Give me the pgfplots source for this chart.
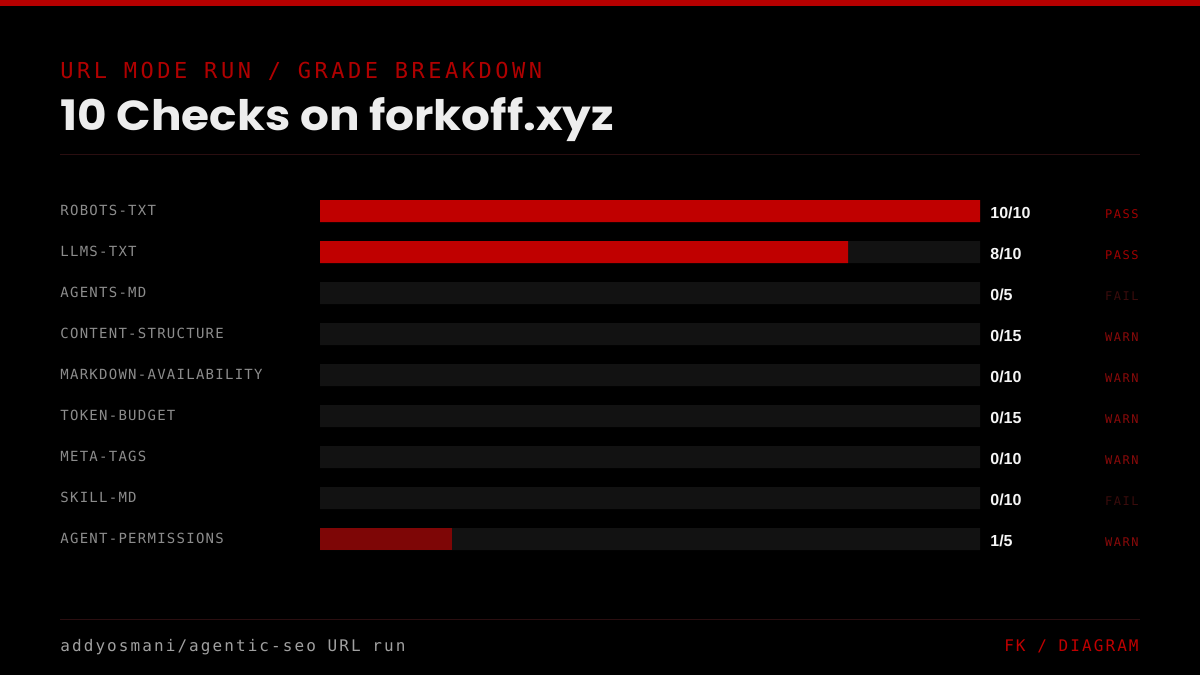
\documentclass[border=0pt]{standalone}
\usepackage{pgfplots}
\pgfplotsset{compat=1.18}
\usepackage{fontspec}
\setmainfont{Liberation Sans}
\newfontfamily\titlefont{Poppins}
\newfontfamily\labmono[LetterSpace=9]{DejaVu Sans Mono}
\newfontfamily\headmono[LetterSpace=16]{DejaVu Sans Mono}
\newfontfamily\statmono[LetterSpace=13]{DejaVu Sans Mono}
\newfontfamily\footmono[LetterSpace=13]{DejaVu Sans Mono}
\definecolor{topred}{HTML}{B50000}
\definecolor{barred}{HTML}{C00000}
\definecolor{bardark}{HTML}{7E0606}
\definecolor{track}{HTML}{121212}
\definecolor{headred}{HTML}{B00000}
\definecolor{passc}{HTML}{A00000}
\definecolor{warnc}{HTML}{8A0A0A}
\definecolor{failc}{HTML}{3A0C0C}
\definecolor{sepc}{HTML}{2A0E10}
\definecolor{labc}{HTML}{8C8C8C}
\definecolor{footc}{HTML}{A0A0A0}
\begin{document}
\begin{tikzpicture}
\path[use as bounding box] (0,0) rectangle (600pt,337.5pt);
\fill[black] (0,0) rectangle (600pt,337.5pt);
\begin{scope}[x=0.5pt,y=-0.5pt,shift={(0,-675)}]
\fill[topred] (0,0) rectangle (1200,6);
\node[anchor=base west, inner sep=0pt, text=headred, font=\headmono\fontsize{11pt}{13pt}\selectfont] at (60,79) {URL MODE RUN / GRADE BREAKDOWN};
\node[anchor=base west, inner sep=0pt, text=white!93!black, font=\titlefont\bfseries\fontsize{21pt}{24pt}\selectfont] at (60,131) {\scalebox{1.08}[1]{10 Checks on forkoff.xyz}};
\draw[sepc, line width=0.5pt] (60,155) -- (1140,155);
\draw[sepc, line width=0.5pt] (60,620) -- (1140,620);
\node[anchor=base west, inner sep=0pt, text=footc, font=\footmono\fontsize{8pt}{10pt}\selectfont] at (60,651) {addyosmani/agentic-seo URL run};
\node[anchor=base east, inner sep=0pt, text=barred, font=\footmono\fontsize{8pt}{10pt}\selectfont] at (1139,651) {FK / DIAGRAM};
\end{scope}
\begin{axis}[
  at={(160pt,57.75pt)}, anchor=south west,
  scale only axis, width=330pt, height=184.5pt,
  xmin=0, xmax=1, ymin=-0.5, ymax=8.5, y dir=reverse,
  axis line style={draw=none}, xtick=\empty,
  ytick={0,...,8},
  yticklabels={ROBOTS-TXT,LLMS-TXT,AGENTS-MD,CONTENT-STRUCTURE,MARKDOWN-AVAILABILITY,TOKEN-BUDGET,META-TAGS,SKILL-MD,AGENT-PERMISSIONS},
  major tick length=0pt, tick label style={inner sep=0pt}, yticklabel style={anchor=base west, xshift=-130pt, yshift=-2pt, text=labc, font=\labmono\fontsize{7pt}{8pt}\selectfont},
  tick style={draw=none},
  clip=false,
]
\addplot[xbar, bar width=11pt, bar shift=0pt, fill=track, draw=none] coordinates {(1,0) (1,1) (1,2) (1,3) (1,4) (1,5) (1,6) (1,7) (1,8)};
\addplot[xbar, bar width=11pt, bar shift=0pt, fill=barred, draw=none] coordinates {(1,0) (0.8,1)};
\addplot[xbar, bar width=11pt, bar shift=0pt, fill=bardark, draw=none] coordinates {(0.2,8)};
\node[anchor=base west, inner sep=0pt, text=white!96!black, font=\bfseries\fontsize{8pt}{9pt}\selectfont] at (axis cs:1,0) [xshift=5pt, yshift=-3.5pt] {10/10};
\node[anchor=base west, inner sep=0pt, text=white!96!black, font=\bfseries\fontsize{8pt}{9pt}\selectfont] at (axis cs:1,1) [xshift=5pt, yshift=-3.5pt] {8/10};
\node[anchor=base west, inner sep=0pt, text=white!96!black, font=\bfseries\fontsize{8pt}{9pt}\selectfont] at (axis cs:1,2) [xshift=5pt, yshift=-3.5pt] {0/5};
\node[anchor=base west, inner sep=0pt, text=white!96!black, font=\bfseries\fontsize{8pt}{9pt}\selectfont] at (axis cs:1,3) [xshift=5pt, yshift=-3.5pt] {0/15};
\node[anchor=base west, inner sep=0pt, text=white!96!black, font=\bfseries\fontsize{8pt}{9pt}\selectfont] at (axis cs:1,4) [xshift=5pt, yshift=-3.5pt] {0/10};
\node[anchor=base west, inner sep=0pt, text=white!96!black, font=\bfseries\fontsize{8pt}{9pt}\selectfont] at (axis cs:1,5) [xshift=5pt, yshift=-3.5pt] {0/15};
\node[anchor=base west, inner sep=0pt, text=white!96!black, font=\bfseries\fontsize{8pt}{9pt}\selectfont] at (axis cs:1,6) [xshift=5pt, yshift=-3.5pt] {0/10};
\node[anchor=base west, inner sep=0pt, text=white!96!black, font=\bfseries\fontsize{8pt}{9pt}\selectfont] at (axis cs:1,7) [xshift=5pt, yshift=-3.5pt] {0/10};
\node[anchor=base west, inner sep=0pt, text=white!96!black, font=\bfseries\fontsize{8pt}{9pt}\selectfont] at (axis cs:1,8) [xshift=5pt, yshift=-3.5pt] {1/5};
\node[anchor=base east, inner sep=0pt, text=passc, font=\statmono\fontsize{6pt}{7pt}\selectfont] at (axis cs:1.2409,0) [yshift=-3.5pt] {PASS};
\node[anchor=base east, inner sep=0pt, text=passc, font=\statmono\fontsize{6pt}{7pt}\selectfont] at (axis cs:1.2409,1) [yshift=-3.5pt] {PASS};
\node[anchor=base east, inner sep=0pt, text=failc, font=\statmono\fontsize{6pt}{7pt}\selectfont] at (axis cs:1.2409,2) [yshift=-3.5pt] {FAIL};
\node[anchor=base east, inner sep=0pt, text=warnc, font=\statmono\fontsize{6pt}{7pt}\selectfont] at (axis cs:1.2409,3) [yshift=-3.5pt] {WARN};
\node[anchor=base east, inner sep=0pt, text=warnc, font=\statmono\fontsize{6pt}{7pt}\selectfont] at (axis cs:1.2409,4) [yshift=-3.5pt] {WARN};
\node[anchor=base east, inner sep=0pt, text=warnc, font=\statmono\fontsize{6pt}{7pt}\selectfont] at (axis cs:1.2409,5) [yshift=-3.5pt] {WARN};
\node[anchor=base east, inner sep=0pt, text=warnc, font=\statmono\fontsize{6pt}{7pt}\selectfont] at (axis cs:1.2409,6) [yshift=-3.5pt] {WARN};
\node[anchor=base east, inner sep=0pt, text=failc, font=\statmono\fontsize{6pt}{7pt}\selectfont] at (axis cs:1.2409,7) [yshift=-3.5pt] {FAIL};
\node[anchor=base east, inner sep=0pt, text=warnc, font=\statmono\fontsize{6pt}{7pt}\selectfont] at (axis cs:1.2409,8) [yshift=-3.5pt] {WARN};
\end{axis}
\end{tikzpicture}
\end{document}
